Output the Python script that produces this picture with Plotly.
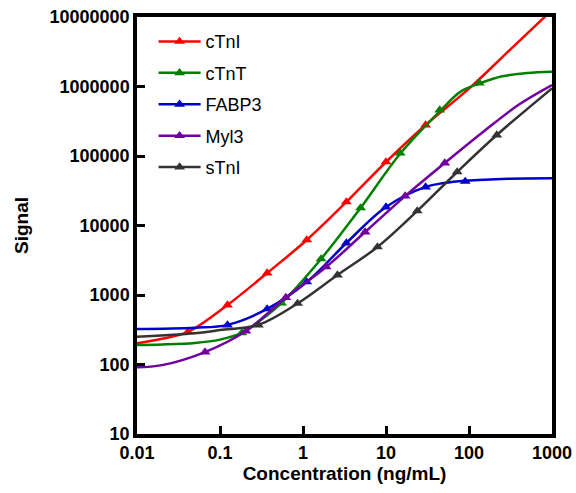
import plotly.graph_objects as go

# ---------------- data ----------------
series_names = ["cTnI", "cTnT", "FABP3", "Myl3", "sTnI"]

# measured points (triangle markers)
ctni_x = [0.041, 0.123, 0.37, 1.11, 3.33, 10, 30]
ctni_y = [294, 718, 2070, 6190, 21800, 82000, 279000]
ctnt_x = [0.183, 0.55, 1.65, 4.94, 14.8, 44.4, 133]
ctnt_y = [284, 767, 3300, 17900, 110000, 459000, 1120000]
fabp3_x = [0.123, 0.37, 1.11, 3.33, 10, 30, 90]
fabp3_y = [370, 630, 1540, 5600, 18450, 35800, 43000]
myl3_x = [0.066, 0.205, 0.62, 1.9, 5.6, 17, 51]
myl3_y = [151, 303, 920, 2530, 8050, 26500, 79200]
stni_x = [0.29, 0.86, 2.6, 7.9, 23.8, 72, 216]
stni_y = [370, 755, 1940, 4910, 16200, 58900, 200500]

# fitted curves
ctni_fit_x = [0.01, 0.02, 0.041, 0.123, 0.37, 1.11, 3.33, 10, 30, 100, 300, 1000]
ctni_fit_y = [202, 235, 294, 718, 2070, 6190, 21800, 82000, 279000, 930000, 3230000, 12600000]
ctnt_fit_x = [0.01, 0.02, 0.05, 0.1, 0.183, 0.3, 0.55, 1.65, 4.94, 14.8, 44.4, 80, 133, 250, 500, 1000]
ctnt_fit_y = [191, 194, 204, 228, 284, 425, 767, 3300, 17900, 108000, 440000, 850000, 1100000, 1400000, 1560000, 1630000]
fabp3_fit_x = [0.01, 0.05, 0.123, 0.37, 1.11, 3.33, 10, 30, 50, 90, 300, 1000]
fabp3_fit_y = [324, 338, 372, 630, 1540, 5600, 18450, 36000, 40800, 44000, 47100, 47800]
myl3_fit_x = [0.01, 0.02, 0.066, 0.205, 0.62, 1.9, 5.6, 17, 51, 150, 400, 1000]
myl3_fit_y = [91, 98, 151, 303, 920, 2530, 8050, 26500, 79200, 225000, 550000, 1050000]
stni_fit_x = [0.01, 0.05, 0.1, 0.29, 0.86, 2.6, 7.9, 23.8, 72, 216, 1000]
stni_fit_y = [251, 281, 313, 372, 755, 1940, 4910, 16200, 58900, 200500, 940000]

x_tickvals = [0.01, 0.1, 1, 10, 100, 1000]
x_ticktext = ["0.01", "0.1", "1", "10", "100", "1000"]
y_tickvals = [10, 100, 1000, 10000, 100000, 1000000, 10000000]
y_ticktext = ["10", "100", "1000", "10000", "100000", "1000000", "10000000"]

colors = ["#FF0000", "#008000", "#0000CC", "#7000A0", "#333333"]

points = [(ctni_x, ctni_y), (ctnt_x, ctnt_y), (fabp3_x, fabp3_y), (myl3_x, myl3_y), (stni_x, stni_y)]
fits = [(ctni_fit_x, ctni_fit_y), (ctnt_fit_x, ctnt_fit_y), (fabp3_fit_x, fabp3_fit_y),
        (myl3_fit_x, myl3_fit_y), (stni_fit_x, stni_fit_y)]

fig = go.Figure()
for i, name in enumerate(series_names):
    c = colors[i]
    fx, fy = fits[i]
    px, py = points[i]
    fig.add_trace(go.Scatter(x=fx, y=fy, mode="lines", line=dict(color=c, width=2.5, shape="spline", smoothing=1.0),
                             showlegend=False, hoverinfo="skip"))
    fig.add_trace(go.Scatter(x=px, y=py, mode="markers", marker=dict(symbol="triangle-up", size=9.5, color=c),
                             showlegend=False, name=name))
    # legend entry (line + marker)
    fig.add_trace(go.Scatter(x=[None], y=[None], mode="lines+markers", name=name, legendgroup=name,
                             line=dict(color=c, width=2.5),
                             marker=dict(symbol="triangle-up", size=9.5, color=c)))

font_family = "Liberation Sans, Arial, sans-serif"
axis_common = dict(
    type="log", showline=True, linewidth=3.5, linecolor="black", mirror=True,
    ticks="inside", ticklen=8, tickwidth=3, tickcolor="black",
    showgrid=False, zeroline=False, automargin=False,
    tickfont=dict(family=font_family, size=18, color="black", weight="bold"),
)

fig.update_layout(
    width=576, height=493,
    margin=dict(l=137, r=24, t=17, b=59),
    paper_bgcolor="white", plot_bgcolor="white",
    xaxis=dict(axis_common, range=[-2, 3], tickvals=x_tickvals, ticktext=x_ticktext,
               title=dict(text="Concentration (ng/mL)", standoff=2,
                          font=dict(family=font_family, size=19, color="black", weight="bold"))),
    yaxis=dict(axis_common, range=[1, 7], tickvals=y_tickvals, ticktext=y_ticktext,
               title=dict(text="Signal", standoff=17,
                          font=dict(family=font_family, size=19, color="black", weight="bold"))),
    legend=dict(x=0.04, y=0.985, xanchor="left", yanchor="top", bgcolor="rgba(0,0,0,0)",
                font=dict(family=font_family, size=18, color="black"),
                tracegroupgap=5, itemwidth=42),
    showlegend=True,
)

fig.write_html("out.html", config={"displayModeBar": False},
               post_script="document.body.style.margin='0px';")
